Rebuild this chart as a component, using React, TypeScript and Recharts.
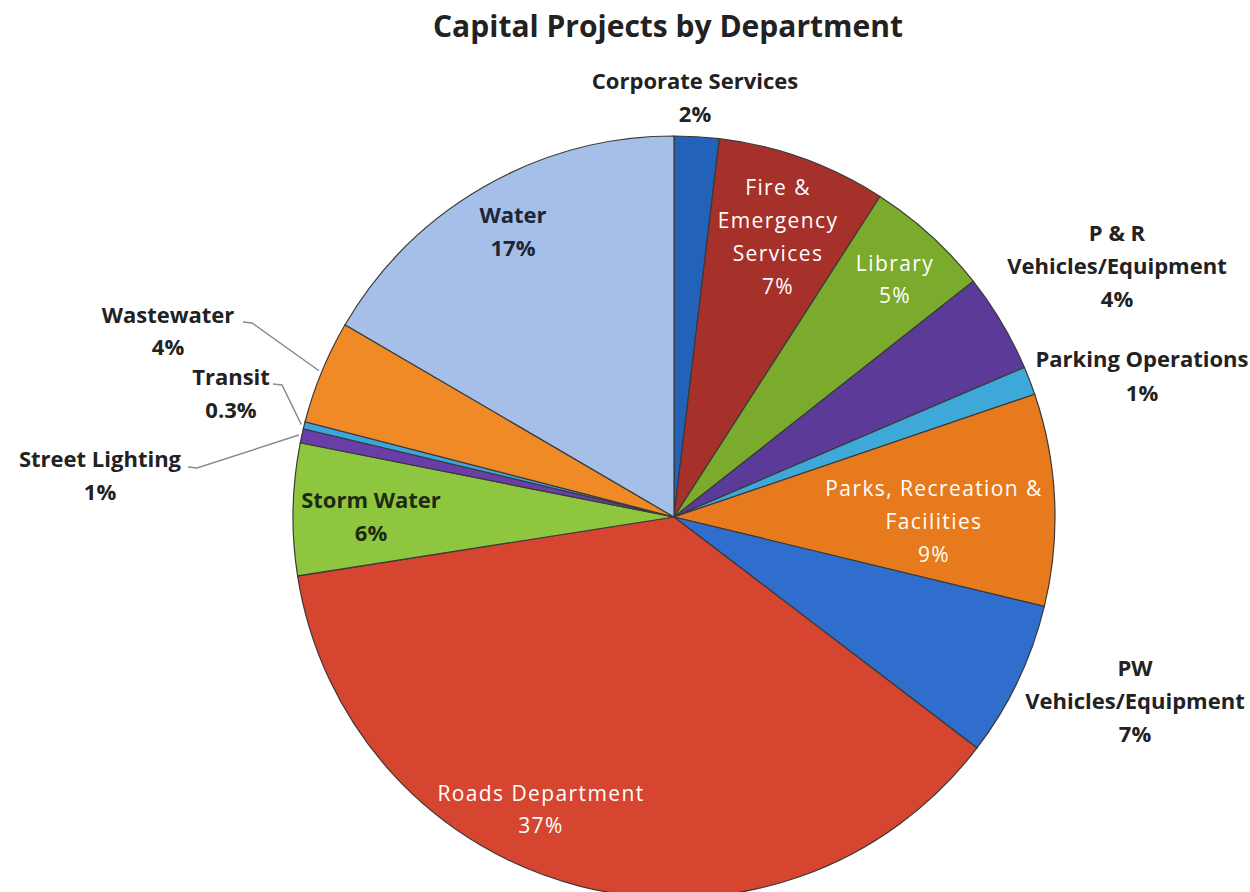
import React from "react";
import { PieChart, Pie, Cell } from "recharts";

// slices clockwise from 12 o'clock
const departments = [
  "Corporate Services",
  "Fire & Emergency Services",
  "Library",
  "P & R Vehicles/Equipment",
  "Parking Operations",
  "Parks, Recreation & Facilities",
  "PW Vehicles/Equipment",
  "Roads Department",
  "Storm Water",
  "Street Lighting",
  "Transit",
  "Wastewater",
  "Water",
];

// shares
const shares = [1.9, 7.2, 5.3, 4.2, 1.2, 9.0, 6.6, 37.2, 5.6, 0.6, 0.3, 4.4, 16.6];

// percentages as printed on the chart
const shareLabels = ["2%", "7%", "5%", "4%", "1%", "9%", "7%", "37%", "6%", "1%", "0.3%", "4%", "17%"];

const colors = [
  "#2262b8",
  "#a6302a",
  "#7aab2c",
  "#5b3a98",
  "#3ea9d9",
  "#e87a1e",
  "#2f6ecd",
  "#d64530",
  "#8fc640",
  "#6a3ea8",
  "#3ba6de",
  "#f08a26",
  "#a6bfe9",
];

const data = departments.map((name, i) => ({ name, value: shares[i] }));

// label placement relative to the pie centre; words = words per line
type LabelLayout = {
  dx: number;
  dy: number;
  lh: number;
  words: number[];
  inside?: boolean;
  color?: string;
  leader?: [number, number];
};

const labelLayout: LabelLayout[] = [
  { dx: 21, dy: -428, lh: 33, words: [2] },
  { dx: 104, dy: -322, lh: 33, words: [2, 1, 1], inside: true },
  { dx: 221, dy: -246, lh: 32, words: [1], inside: true },
  { dx: 443, dy: -276, lh: 33, words: [3, 1] },
  { dx: 468, dy: -150, lh: 34, words: [2] },
  { dx: 260, dy: -21, lh: 33, words: [3, 1], inside: true },
  { dx: 461, dy: 159, lh: 33, words: [1, 1] },
  { dx: -133, dy: 284, lh: 32, words: [2], inside: true },
  { dx: -303, dy: -9, lh: 33, words: [2], color: "#1e2a12" },
  { dx: -574, dy: -50, lh: 33, words: [2], leader: [-486, -50] },
  { dx: -443, dy: -132, lh: 33, words: [1], leader: [-401, -133] },
  { dx: -506, dy: -194, lh: 32, words: [1], leader: [-431, -195] },
  { dx: -161, dy: -294, lh: 33, words: [1], color: "#1c2636" },
];

const CX = 669;
const CY = 512;
const RADIUS = 381;
const RAD = Math.PI / 180;
const FONT = "'Open Sans', 'Noto Sans', sans-serif";

const renderLabel = (props: any) => {
  const { midAngle, index } = props;
  const cx = props.cx ?? CX;
  const cy = props.cy ?? CY;
  const outerRadius = props.outerRadius ?? RADIUS;
  const l = labelLayout[index];
  const words = departments[index].split(" ");
  const lines: string[] = [];
  let k = 0;
  for (const n of l.words) {
    lines.push(words.slice(k, k + n).join(" "));
    k += n;
  }
  lines.push(shareLabels[index]);

  const x = cx + l.dx;
  const y = cy + l.dy;

  let leader = null;
  if (l.leader) {
    const ex = cx + (outerRadius + 3) * Math.cos(-midAngle * RAD);
    const ey = cy + (outerRadius + 3) * Math.sin(-midAngle * RAD);
    const sx = cx + l.leader[0];
    const sy = cy + l.leader[1];
    leader = (
      <path
        d={`M${sx},${sy} L${sx + 9},${sy + 1} L${ex},${ey}`}
        stroke="#8a8a8a"
        strokeWidth={1.5}
        fill="none"
      />
    );
  }

  return (
    <g key={`lbl-${index}`}>
      {leader}
      <text
        x={x}
        y={y}
        textAnchor="middle"
        fill={l.inside ? "#ffffff" : l.color || "#222222"}
        fontFamily={FONT}
        fontWeight={l.inside ? 400 : 700}
        fontSize={l.inside ? 21 : 22}
        letterSpacing={l.inside ? 1.4 : 0}
      >
        {lines.map((t, i) => (
          <tspan key={i} x={x} dy={i === 0 ? 0 : l.lh}>
            {t}
          </tspan>
        ))}
      </text>
    </g>
  );
};

export default function App() {
  return (
    <div style={{ position: "absolute", left: 0, top: 0, width: 1250, height: 892, background: "#fff" }}>
      <svg width={1250} height={60} style={{ position: "absolute", left: 0, top: 0 }}>
        <text
          x={668}
          y={37}
          textAnchor="middle"
          fontFamily={FONT}
          fontWeight={700}
          fontSize={30}
          fill="#222222"
        >
          Capital Projects by Department
        </text>
      </svg>
      <div style={{ position: "absolute", left: 0, top: 0 }}>
        <PieChart width={1250} height={892}>
          <Pie
            data={data}
            dataKey="value"
            nameKey="name"
            cx={CX}
            cy={CY}
            outerRadius={RADIUS}
            startAngle={90}
            endAngle={-270}
            stroke="#3a3a3a"
            strokeWidth={1.2}
            label={renderLabel}
            labelLine={false}
            isAnimationActive={false}
          >
            {data.map((d, i) => (
              <Cell key={d.name} fill={colors[i]} />
            ))}
          </Pie>
        </PieChart>
      </div>
    </div>
  );
}
